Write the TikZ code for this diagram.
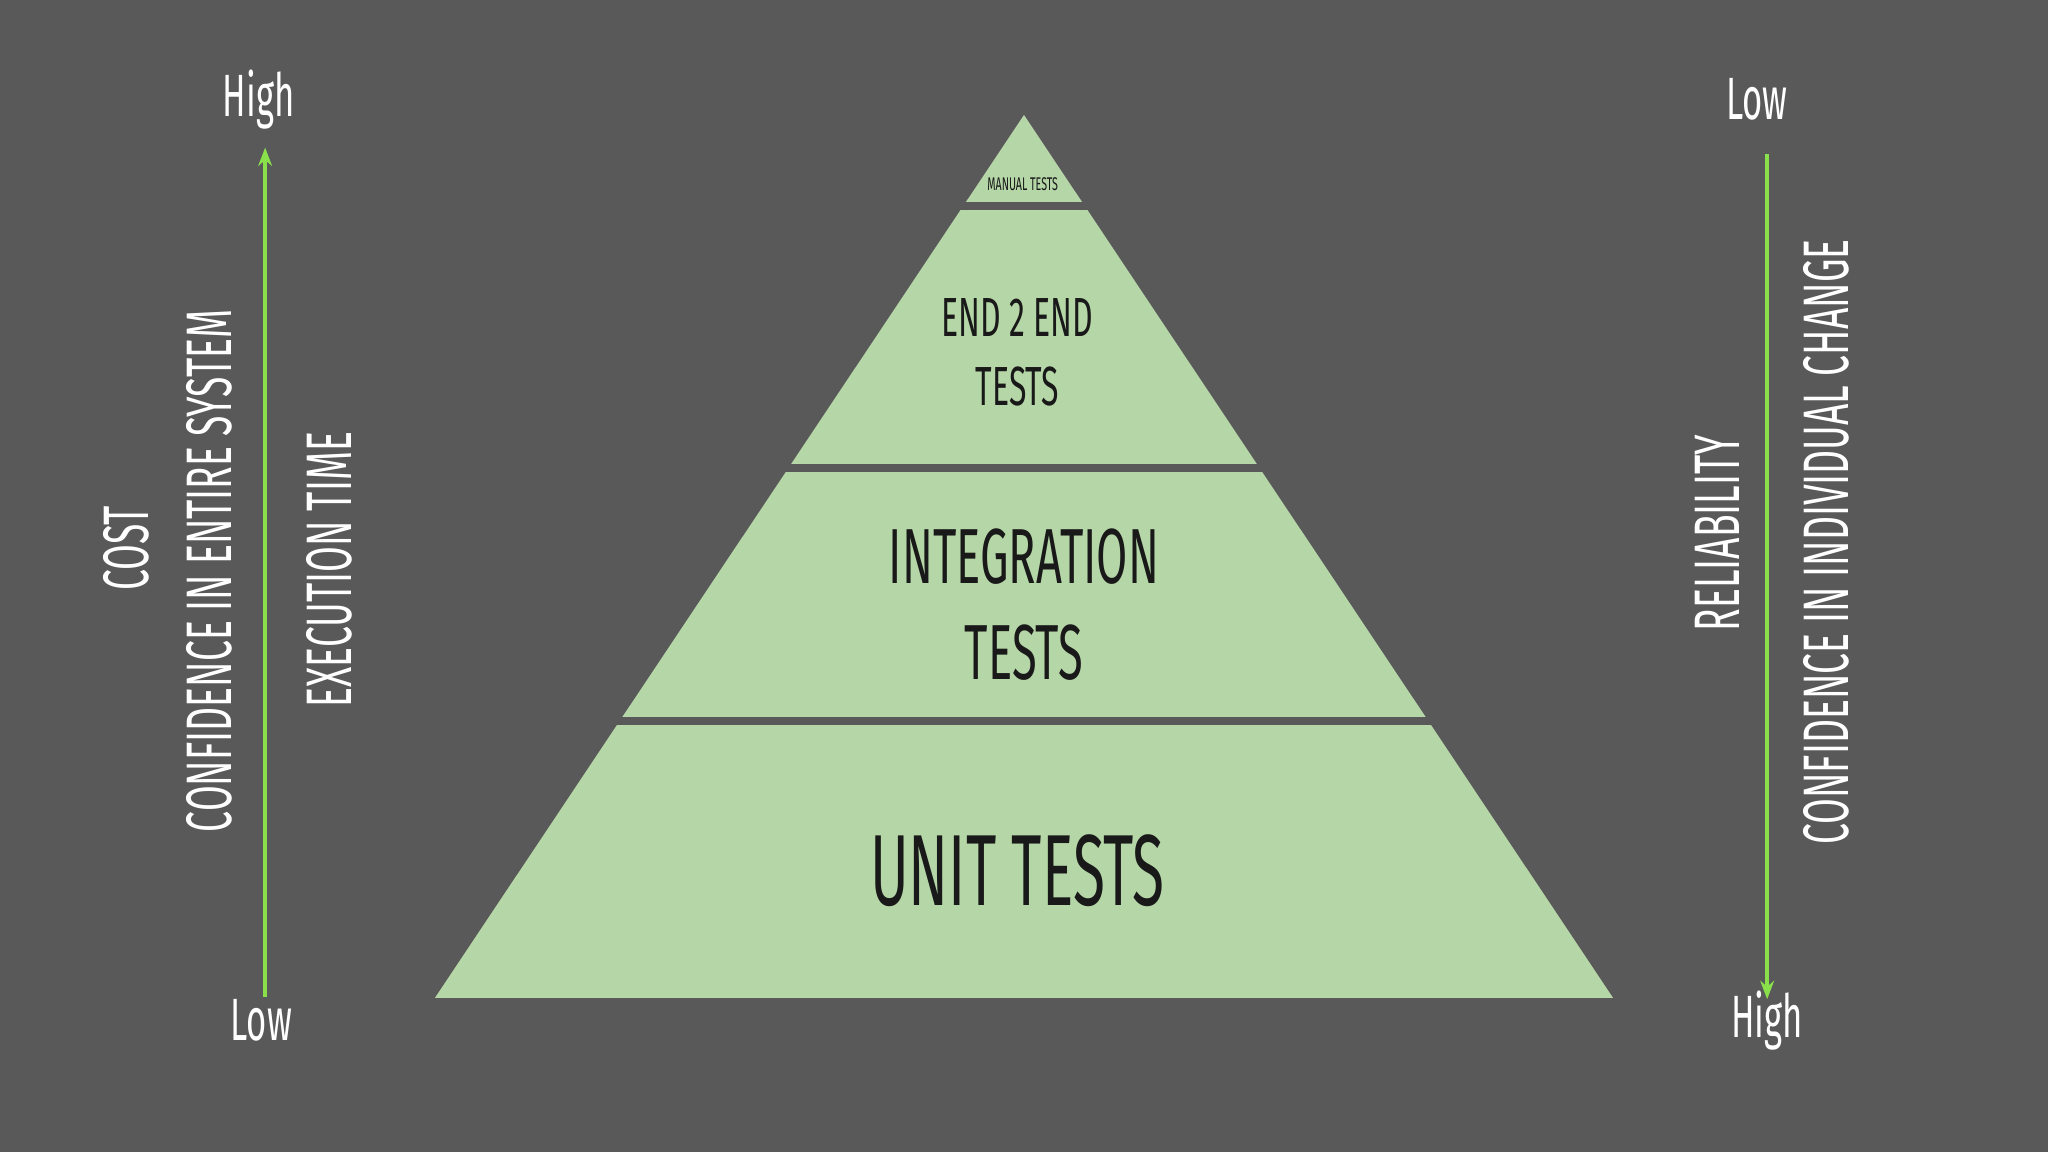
\documentclass[tikz,border=0pt]{standalone}
\usepackage{fontspec}
\newfontfamily\cond[FakeStretch=0.58]{Fira Sans}
\usetikzlibrary{arrows.meta}
\definecolor{bg}{HTML}{595959}
\definecolor{pg}{HTML}{B5D6A7}
\definecolor{ag}{HTML}{8AE04A}
\tikzset{wt/.style={text=white,font=\cond,inner sep=0pt},
 bt/.style={text=black!90,font=\cond,inner sep=0pt,align=center},
 garrow/.style={draw=ag,line width=0.8pt,-{Stealth[length=4pt,width=3pt]}}}
\begin{document}
\begin{tikzpicture}[x=0.01cm,y=-0.01cm]
\fill[bg] (0,0) rectangle (1568,882);
\useasboundingbox (0,0) rectangle (1568,882);
\fill[pg] (784,88) -- (1235,764) -- (333,764) -- cycle;
\foreach \yy in {158,358,552} \draw[bg,line width=6*0.2845pt] (300,\yy) -- (1270,\yy);
\node[bt,font=\cond\fontsize{4}{5}\selectfont] (man) at (783,141) {MANUAL TESTS};
\node[bt,font=\cond\fontsize{12}{15}\selectfont] (e2e) at (779,270) {END 2 END\\TESTS};
\node[bt,font=\cond\fontsize{17}{21}\selectfont] (int) at (784,463) {INTEGRATION\\TESTS};
\node[bt,font=\cond\fontsize{22}{26}\selectfont] (unit) at (779,667) {UNIT TESTS};
\node[wt,font=\cond\fontsize{13}{15}\selectfont] (lh) at (198,76) {High};
\node[wt,font=\cond\fontsize{13}{15}\selectfont] (ll) at (200,781) {Low};
\node[wt,font=\cond\fontsize{13}{15}\selectfont] (rl) at (1345,76) {Low};
\node[wt,font=\cond\fontsize{13}{15}\selectfont] (rh) at (1353,781) {High};
\coordinate (la) at (203,763); \coordinate (lb) at (203,113);
\coordinate (ra) at (1353,118); \coordinate (rb) at (1353,765);
\draw[garrow] (la) -- (lb);
\draw[garrow] (ra) -- (rb);
\node[wt,rotate=90,font=\cond\fontsize{14}{16}\selectfont] (cost) at (97,420) {COST};
\node[wt,rotate=90,font=\cond\fontsize{14}{16}\selectfont] (ces) at (160,437) {CONFIDENCE IN ENTIRE SYSTEM};
\node[wt,rotate=90,font=\cond\fontsize{14}{16}\selectfont] (et) at (252,436) {EXECUTION TIME};
\node[wt,rotate=90,font=\cond\fontsize{14}{16}\selectfont] (rel) at (1315,408) {RELIABILITY};
\node[wt,rotate=90,font=\cond\fontsize{14}{16}\selectfont] (cic) at (1398,415) {CONFIDENCE IN INDIVIDUAL CHANGE};
\end{tikzpicture}
\end{document}
